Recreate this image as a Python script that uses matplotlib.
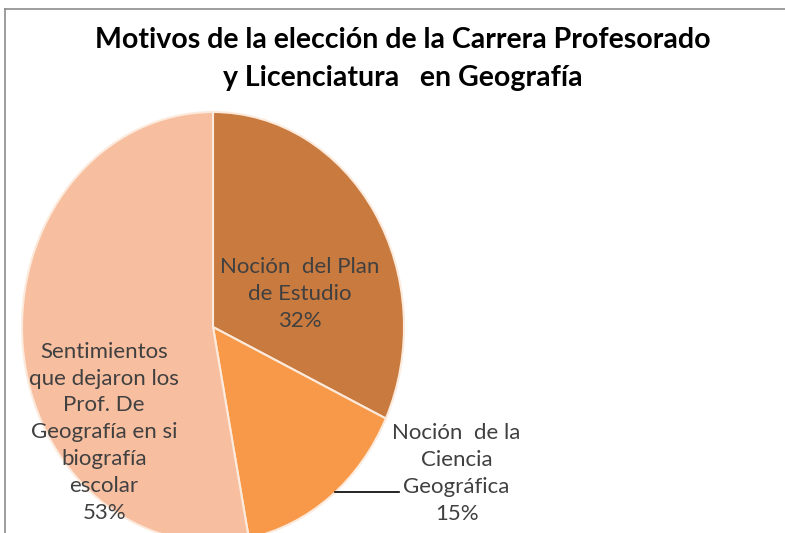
import matplotlib.pyplot as plt
from matplotlib.lines import Line2D

plt.rcParams['font.family'] = ['Lato', 'DejaVu Sans']

labels = ['Noción  del Plan\nde Estudio', 'Noción  de la\nCiencia\nGeográfica',
          'Sentimientos\nque dejaron los\nProf. De\nGeografía en si\nbiografía\nescolar']
values = [32, 15, 53]
colors = ['#C97A3F', '#F8994A', '#F7BEA0']

W, H = 785, 533
fig = plt.figure(figsize=(W / 100, H / 100), dpi=100)

# pie is stretched vertically and cut off at the bottom, like the original
cx, cy, rx, ry = 213, 327, 191, 215
ax = fig.add_axes([(cx - rx) / W, (H - cy - ry) / H, 2 * rx / W, 2 * ry / H])
wedges, _ = ax.pie(values, colors=colors, startangle=90, counterclock=False,
                   wedgeprops=dict(edgecolor='#FCEBDD', linewidth=1.5))
ax.set_aspect('auto')
ax.set_xlim(-1, 1)
ax.set_ylim(-1, 1)
ax.axis('off')

txt = dict(ha='center', va='center', color='#404040', fontsize=16, linespacing=1.43)
ax.text(0.455, 0.155, labels[0] + '\n%d%%' % values[0], **txt)
ax.text(-0.57, -0.49, labels[2] + '\n%d%%' % values[2], **txt)
ax.text(1.275, -0.68, labels[1] + '\n%d%%' % values[1], clip_on=False, **txt)
ax.add_line(Line2D([0.641, 0.975], [-0.767, -0.767], color='black', lw=1.2, clip_on=False))

fig.text(403 / W, 1 - 59 / H, 'Motivos de la elección de la Carrera Profesorado\ny Licenciatura   en Geografía',
         ha='center', va='center', fontsize=20.5, fontweight='bold', color='black', linespacing=1.55)

# chart border (left and top)
fig.add_artist(Line2D([5 / W, 5 / W], [0, 1 - 9 / H], color='#8C8C8C', lw=1.2))
fig.add_artist(Line2D([5 / W, 1], [1 - 9 / H, 1 - 9 / H], color='#8C8C8C', lw=1.2))

fig.savefig('out.png', dpi=100)
